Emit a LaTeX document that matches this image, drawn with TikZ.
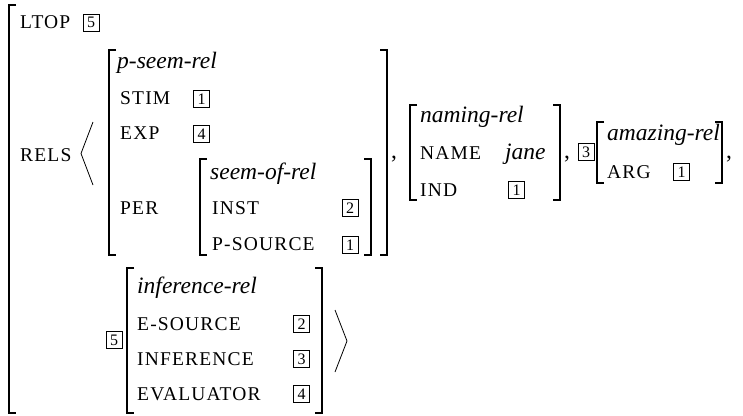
\documentclass[tikz,border=0pt]{standalone}
\usepackage{fontspec}
\setmainfont{Liberation Serif}
\usetikzlibrary{positioning}
\tikzset{font={\fontsize{23.5pt}{28}\selectfont}}
\tikzstyle{feat}=[anchor=base west, inner sep=0pt, font={\fontsize{19.5pt}{23}\selectfont\addfontfeature{LetterSpace=6}}]
\tikzstyle{sort}=[anchor=base west, inner sep=0pt, font={\fontsize{23.5pt}{28}\selectfont\itshape}]
\tikzstyle{punct}=[anchor=base west, inner sep=0pt]
\tikzstyle{tagbox}=[draw, line width=0.6pt, inner sep=0pt, minimum width=16pt, minimum height=17pt, font={\fontsize{16pt}{16}\selectfont}]
\tikzstyle{brk}=[line width=1.2pt]
\tikzstyle{angl}=[line width=0.8pt]
\newcommand{\lbrk}[3]{\draw[brk] (#1+7,#2) -- (#1,#2) -- (#1,#3) -- (#1+7,#3);}
\newcommand{\rbrk}[3]{\draw[brk] (#1-7,#2) -- (#1,#2) -- (#1,#3) -- (#1-7,#3);}

\begin{document}
\begin{tikzpicture}[x=1pt, y=-1pt]
        \useasboundingbox (0,0) rectangle (743,415);
        % outer avm
        \lbrk{9}{5}{413}
        \node[feat] (ltop) at (20,28) {LTOP};
        \node[tagbox] (ltop-t) at (91,22.5) {5};
        \node[feat] (rels) at (20,161) {RELS};
        \draw[angl] (93,122) -- (81,153.5) -- (93,185);

        % p-seem-rel
        \lbrk{109}{50}{255}
        \rbrk{387}{50}{255}
        \node[sort] (pseem) at (117,68) {p-seem-rel};
        \node[feat] (stim) at (120,104) {STIM};
        \node[tagbox] (stim-t) at (201.5,99) {1};
        \node[feat] (exp) at (120,139) {EXP};
        \node[tagbox] (exp-t) at (201.5,134) {4};
        \node[feat] (per) at (120,214) {PER};
        \lbrk{200}{159}{255}
        \rbrk{371}{159}{255}
        \node[sort] (seemof) at (210,179) {seem-of-rel};
        \node[feat] (inst) at (212,214) {INST};
        \node[tagbox] (inst-t) at (350,208) {2};
        \node[feat] (psrc) at (212,250) {P-SOURCE};
        \node[tagbox] (psrc-t) at (350,245) {1};
        \node[punct] (c1) at (391,158) {,};

        % naming-rel
        \lbrk{410}{105}{200}
        \rbrk{560}{105}{200}
        \node[sort] (naming) at (420,122) {naming-rel};
        \node[feat] (name) at (420,159) {NAME};
        \node[sort] (jane) at (505,159) {jane};
        \node[feat] (ind) at (420,196) {IND};
        \node[tagbox] (ind-t) at (516.5,190) {1};
        \node[punct] (c2) at (564,158) {,};

        % amazing-rel
        \node[tagbox] (amaz-t) at (586,152) {3};
        \lbrk{597}{122}{183}
        \rbrk{722}{122}{183}
        \node[sort] (amazing) at (607,140) {amazing-rel};
        \node[feat] (arg) at (607,178) {ARG};
        \node[tagbox] (arg-t) at (681.5,172) {1};
        \node[punct] (c3) at (726,158) {,};

        % inference-rel
        \node[tagbox] (inf-t) at (114,340) {5};
        \lbrk{127}{268}{413}
        \rbrk{322}{268}{413}
        \node[sort] (infrel) at (137,293) {inference-rel};
        \node[feat] (esrc) at (137,330) {E-SOURCE};
        \node[tagbox] (esrc-t) at (301.5,324) {2};
        \node[feat] (infer) at (137,365) {INFERENCE};
        \node[tagbox] (infer-t) at (301.5,359) {3};
        \node[feat] (eval) at (137,400) {EVALUATOR};
        \node[tagbox] (eval-t) at (301.5,394) {4};
        \draw[angl] (335,310) -- (347,341) -- (335,372);
\end{tikzpicture}
\end{document}
